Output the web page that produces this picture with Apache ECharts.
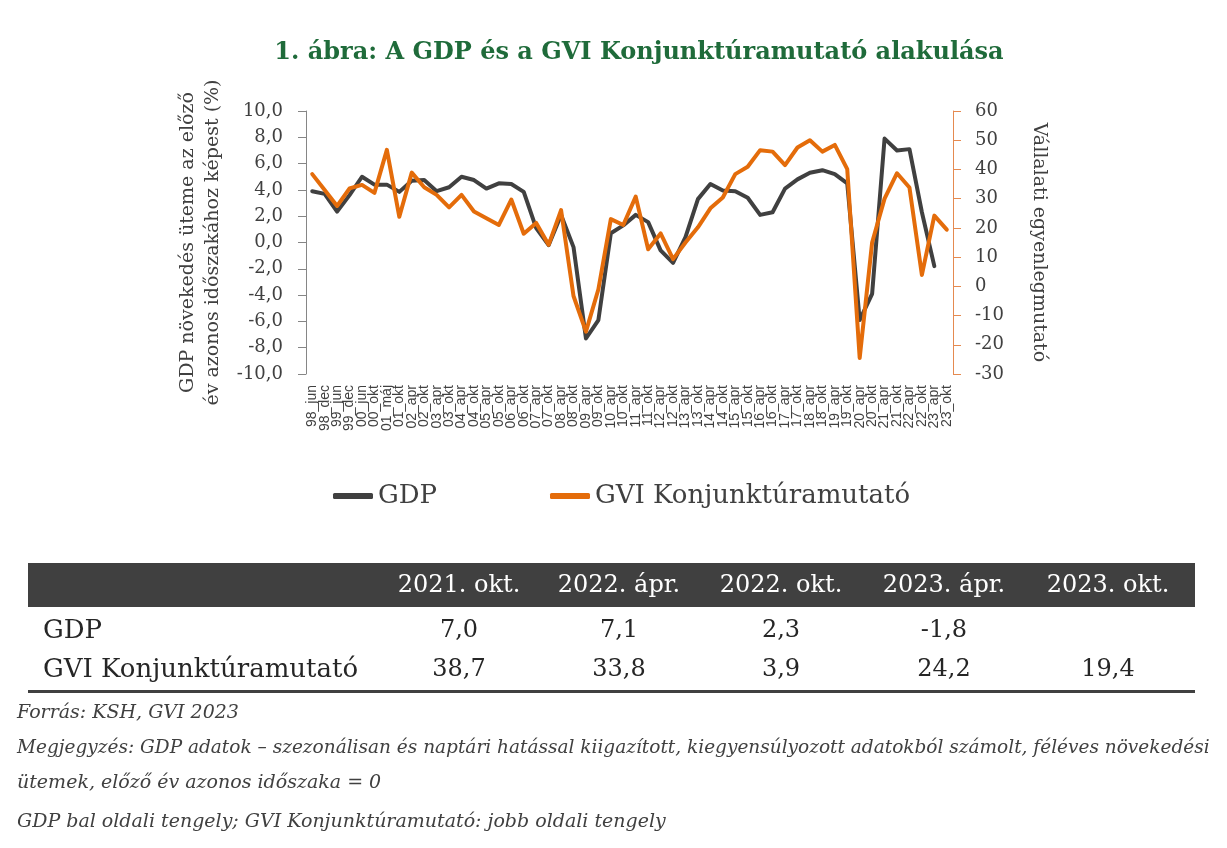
<!DOCTYPE html>
<html>
<head>
<meta charset="utf-8">
<script src="https://cdn.jsdelivr.net/npm/echarts@6/dist/echarts.min.js"></script>
<style>
html,body{margin:0;padding:0;background:#fff;}
#chart{width:1227px;height:848px;}
</style>
</head>
<body>
<div id="chart"></div>
<script>
var categories = ['98_jun','98_dec','99_jun','99_dec','00_jun','00_okt','01_máj','01_okt',
  '02_apr','02_okt','03_apr','03_okt','04_apr','04_okt','05_apr','05_okt','06_apr','06_okt',
  '07_apr','07_okt','08_apr','08_okt','09_apr','09_okt','10_apr','10_okt','11_apr','11_okt',
  '12_apr','12_okt','13_apr','13_okt','14_apr','14_okt','15_apr','15_okt','16_apr','16_okt',
  '17_apr','17_okt','18_apr','18_okt','19_apr','19_okt','20_apr','20_okt','21_apr','21_okt',
  '22_apr','22_okt','23_apr','23_okt'];
var gdp = [3.9,3.7,2.35,3.6,5.0,4.4,4.4,3.85,4.7,4.75,3.9,4.2,5.0,4.75,4.1,4.5,4.45,3.85,
  1.1,-0.2,2.1,-0.35,-7.3,-5.9,0.7,1.3,2.1,1.55,-0.6,-1.55,0.4,3.3,4.45,3.95,3.9,3.4,2.1,2.3,
  4.1,4.8,5.3,5.5,5.2,4.5,-5.9,-3.9,7.9,7.0,7.1,2.3,-1.8,null];
var gvi = [38.4,33.0,27.5,33.5,34.7,32.0,46.7,23.8,38.9,33.9,31.3,27.0,31.3,25.6,23.3,21.0,29.7,18.0,
  21.7,14.2,26.1,-3.3,-15.5,-1.0,23.0,21.0,30.7,12.7,18.1,9.3,15.0,20.2,26.7,30.4,38.4,40.9,46.6,46.1,
  41.5,47.5,50.0,46.1,48.4,40.1,-24.5,15.0,30.0,38.7,33.8,3.9,24.2,19.4];
var tableHeaders = ['2021. okt.','2022. ápr.','2022. okt.','2023. ápr.','2023. okt.'];
var tableFirstIndex = 47;
var seriesNames = ['GDP','GVI Konjunktúramutató'];
var titleText = '1. ábra: A GDP és a GVI Konjunktúramutató alakulása';
var leftAxisName = 'GDP növekedés üteme az előző\név azonos időszakához képest (%)';
var rightAxisName = 'Vállalati egyenlegmutató';
var notes = [
  'Forrás: KSH, GVI 2023',
  'Megjegyzés: GDP adatok – szezonálisan és naptári hatással kiigazított, kiegyensúlyozott adatokból számolt, féléves növekedési',
  'ütemek, előző év azonos időszaka = 0',
  'GDP bal oldali tengely; GVI Konjunktúramutató: jobb oldali tengely'
];

var SERIF = '"DejaVu Serif"';
var DARK = '#404040';
var ORANGE = '#E46C0A';
function fmt(v){ return (v === null || v === undefined) ? '' : v.toFixed(1).replace('.', ','); }

var graphics = [];
graphics.push({type:'rect', shape:{x:28, y:563, width:1167, height:44}, style:{fill:'#404040'}, silent:true});
graphics.push({type:'rect', shape:{x:28, y:690, width:1167, height:3}, style:{fill:'#404040'}, silent:true});
var colX = [459, 619, 781, 944, 1108];
tableHeaders.forEach(function(h, i){
  graphics.push({type:'text', style:{text:h, x:colX[i], y:586, fill:'#ffffff', font:'24px ' + SERIF, textAlign:'center', verticalAlign:'middle'}});
  graphics.push({type:'text', style:{text:fmt(gdp[tableFirstIndex+i]), x:colX[i], y:631, fill:'#262626', font:'24px ' + SERIF, textAlign:'center', verticalAlign:'middle'}});
  graphics.push({type:'text', style:{text:fmt(gvi[tableFirstIndex+i]), x:colX[i], y:670, fill:'#262626', font:'24px ' + SERIF, textAlign:'center', verticalAlign:'middle'}});
});
graphics.push({type:'text', style:{text:seriesNames[0], x:43, y:631, fill:'#262626', font:'26px ' + SERIF, textAlign:'left', verticalAlign:'middle'}});
graphics.push({type:'text', style:{text:seriesNames[1], x:43, y:670, fill:'#262626', font:'26px ' + SERIF, textAlign:'left', verticalAlign:'middle'}});
var noteY = [713, 748, 783, 822];
var noteSize = [19, 18.5, 19, 19];
notes.forEach(function(t, i){
  graphics.push({type:'text', style:{text:t, x:17, y:noteY[i], fill:DARK, font:'italic ' + noteSize[i] + 'px ' + SERIF, textAlign:'left', verticalAlign:'middle'}});
});

var chart = echarts.init(document.getElementById('chart'), null, {renderer:'canvas'});
chart.setOption({
  animation:false,
  backgroundColor:'#ffffff',
  title:{text:titleText, left:634, top:36, textAlign:'center',
    textStyle:{fontFamily:SERIF, fontWeight:'bold', fontSize:24, color:'#1F6B3A'}},
  legend:[
    {data:[seriesNames[0]], left:333, top:483, padding:0, icon:'roundRect', itemWidth:40, itemHeight:6,
      textStyle:{fontFamily:SERIF, fontSize:26, color:DARK}},
    {data:[seriesNames[1]], left:550, top:483, padding:0, icon:'roundRect', itemWidth:40, itemHeight:6,
      textStyle:{fontFamily:SERIF, fontSize:26, color:DARK}}
  ],
  grid:{left:306, right:274, top:111, bottom:474, containLabel:false},
  xAxis:{type:'category', data:categories, boundaryGap:true,
    axisLine:{show:false}, axisTick:{show:false},
    axisLabel:{interval:0, rotate:90, margin:11, fontFamily:'"Liberation Sans"', fontSize:14, color:DARK}},
  yAxis:[
    {type:'value', position:'left', min:-10, max:10, interval:2,
      name:leftAxisName, nameLocation:'middle', nameGap:69,
      nameTextStyle:{fontFamily:SERIF, fontSize:19, color:DARK, lineHeight:25, align:'center'},
      axisLine:{show:true, lineStyle:{color:'#868686', width:1}},
      axisTick:{show:true, length:8, lineStyle:{color:'#868686'}},
      splitLine:{show:false},
      axisLabel:{formatter:function(v){return v.toFixed(1).replace('.', ',');}, margin:23,
        fontFamily:SERIF, fontSize:18, color:DARK}},
    {type:'value', position:'right', min:-30, max:60, interval:10,
      name:rightAxisName, nameLocation:'middle', nameGap:76, nameRotate:-90,
      nameTextStyle:{fontFamily:SERIF, fontSize:19, color:DARK},
      axisLine:{show:true, lineStyle:{color:'#E58A50', width:1}},
      axisTick:{show:true, length:8, lineStyle:{color:'#E58A50'}},
      splitLine:{show:false},
      axisLabel:{margin:22, fontFamily:SERIF, fontSize:18, color:DARK}}
  ],
  series:[
    {name:seriesNames[0], type:'line', yAxisIndex:0, data:gdp, symbol:'none', showSymbol:false,
      lineStyle:{color:DARK, width:4, join:'round', cap:'round'}, itemStyle:{color:DARK}},
    {name:seriesNames[1], type:'line', yAxisIndex:1, data:gvi, symbol:'none', showSymbol:false,
      lineStyle:{color:ORANGE, width:4, join:'round', cap:'round'}, itemStyle:{color:ORANGE}}
  ],
  graphic:graphics
});
</script>
</body>
</html>
